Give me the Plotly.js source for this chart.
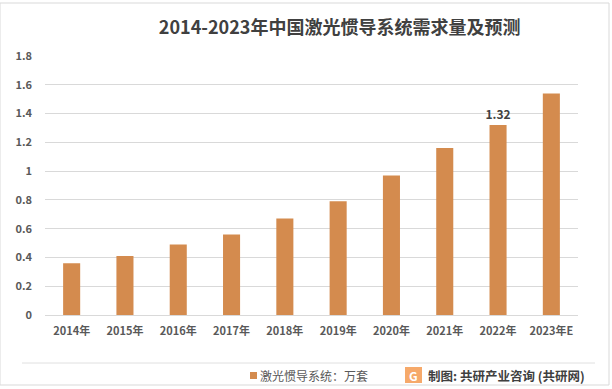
<!DOCTYPE html>
<html><head><meta charset="utf-8">
<script src="https://cdn.plot.ly/plotly-3.0.1.min.js"></script>
<style>html,body{margin:0;padding:0;background:#fff}#c{width:612px;height:389px}</style>
</head><body><div id="c"></div>
<script>
const categories = ["2014年","2015年","2016年","2017年","2018年","2019年","2020年","2021年","2022年","2023年E"];
const values = [0.36,0.41,0.49,0.56,0.67,0.79,0.97,1.16,1.32,1.54];
const labels = ["","","","","","","","","<b>1.32</b>",""];
const seriesName = "激光惯导系统：万套";
const titleText = "2014-2023年中国激光惯导系统需求量及预测";
const sourceText = "制图: 共研产业咨询 (共研网)";
const F = "Noto Sans CJK SC, Noto Sans, sans-serif";

const trace = {
  type: "bar", x: categories, y: values, name: seriesName,
  marker: {color: "#D48B4E"},
  text: labels, textposition: "outside", cliponaxis: false, constraintext: "none",
  textfont: {family: F, size: 12, color: "#404040"},
  hoverinfo: "none"
};
const layout = {
  width: 612, height: 389,
  margin: {l: 45, r: 34, t: 56, b: 74},
  paper_bgcolor: "#fff", plot_bgcolor: "#fff",
  bargap: 0.68,
  showlegend: false,
  title: {text: "<b>" + titleText + "</b>", x: 0.555, xanchor: "center", y: 0.928, yanchor: "middle",
          font: {family: F, size: 18, color: "#404040"}},
  xaxis: {type: "category", showgrid: false, zeroline: false, showline: false, ticks: "",
          ticklabelstandoff: 8,
          tickfont: {family: F, size: 11, color: "#595959", weight: "bold"}, fixedrange: true},
  yaxis: {range: [0, 1.8], dtick: 0.2, showgrid: true, gridcolor: "#D9D9D9", gridwidth: 1,
          zeroline: true, zerolinecolor: "#D9D9D9", showline: false, ticks: "",
          tickfont: {family: F, size: 11, color: "#595959", weight: "bold"}, ticklabelstandoff: 12, fixedrange: true},
  shapes: [
    {type: "rect", xref: "paper", yref: "paper", x0: -45/533, x1: 1 + 31/533, y0: -70/259, y1: 1 + 53/259,
     line: {color: "#D9D9D9", width: 1}, fillcolor: "rgba(0,0,0,0)"},
    {type: "line", xref: "paper", yref: "paper", x0: -23/533, x1: 1 + 17/533, y0: -48/259, y1: -48/259,
     line: {color: "#E0E0E0", width: 1}},
    {type: "rect", xref: "paper", yref: "paper", x0: 205/533, x1: 212/533, y0: -57/259, y1: -64/259,
     line: {width: 0}, fillcolor: "#D48B4E"},
    {type: "rect", xref: "paper", yref: "paper", x0: 360/533, x1: 377/533, y0: -52/259, y1: -68/259,
     line: {width: 0}, fillcolor: "#F6A96A"}
  ],
  annotations: [
    {xref: "paper", yref: "paper", x: 213/533, y: -60/259, xanchor: "left", yanchor: "middle",
     text: seriesName, showarrow: false, font: {family: F, size: 12, color: "#595959"}},
    {xref: "paper", yref: "paper", x: 381/533, y: -60/259, xanchor: "left", yanchor: "middle",
     text: "<b>" + sourceText + "</b>", showarrow: false, font: {family: F, size: 12.5, color: "#404040"}},
    {xref: "paper", yref: "paper", x: 368.5/533, y: -60/259, xanchor: "center", yanchor: "middle",
     text: "<b>G</b>", showarrow: false,
     font: {family: F, size: 12, color: "#ffffff"}}
  ]
};
Plotly.newPlot("c", [trace], layout, {staticPlot: true, displayModeBar: false});
</script></body></html>
